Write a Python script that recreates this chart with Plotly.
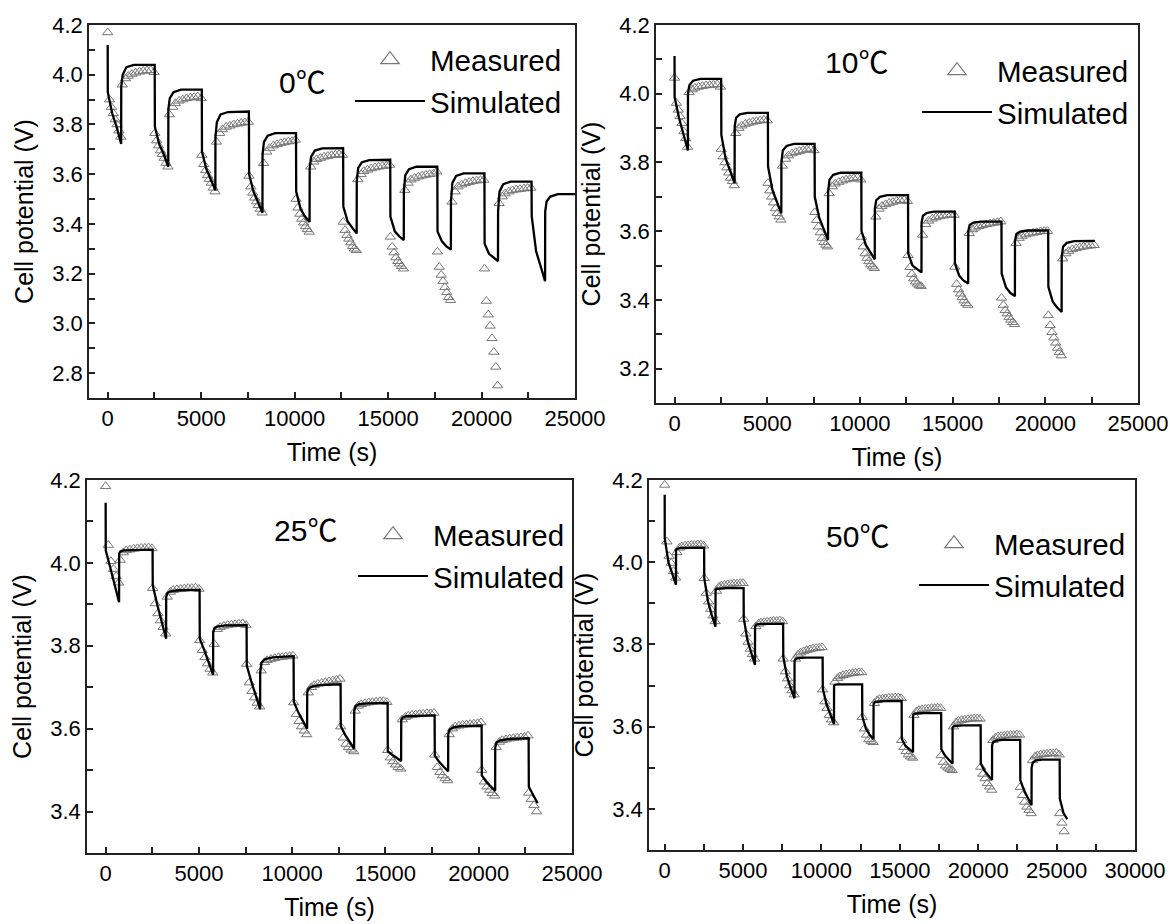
import plotly.graph_objects as go

# ---------------- data ----------------
CYCLE_STARTS = [0, 2520, 5040, 7560, 10080, 12600, 15120, 17640, 20160, 22680, 25200]
DIS_OFFSETS_FINE = [0, 100, 200, 300, 400, 500, 600, 700]
DIS_OFFSETS_COARSE = [0, 140, 280, 420, 560, 700]
REST_OFFSETS = [780, 950, 1100, 1300, 1500, 1700, 1900, 2100, 2300, 2480]
SIM_DIS_OFFSETS = [5, 240, 480, 720]
SIM_REST_OFFSETS = [725, 800, 1000, 1400, 2515]

TEMP_LABELS = ["0", "10", "25", "50"]
SERIES_NAMES = ["Measured", "Simulated"]
X_TITLE = "Time (s)"
Y_TITLE = "Cell potential (V)"

# ---- 0 C ----
M0_DIS = [
    [4.17, 3.90, 3.87, 3.845, 3.82, 3.80, 3.775, 3.75],
    [3.765, 3.735, 3.715, 3.695, 3.68, 3.665, 3.645, 3.63],
    [3.677, 3.64, 3.615, 3.595, 3.58, 3.565, 3.545, 3.53],
    [3.593, 3.55, 3.525, 3.505, 3.49, 3.475, 3.46, 3.445],
    [3.50, 3.465, 3.44, 3.42, 3.405, 3.39, 3.378, 3.368],
    [3.408, 3.375, 3.355, 3.34, 3.325, 3.31, 3.30, 3.294],
    [3.348, 3.308, 3.285, 3.265, 3.25, 3.24, 3.23, 3.22],
    [3.288, 3.227, 3.195, 3.17, 3.145, 3.125, 3.105, 3.093],
    [3.22, 3.09, 3.035, 2.99, 2.94, 2.885, 2.825, 2.75],
]
M0_REST = [
    [3.96, 3.985, 3.995, 4.003, 4.008, 4.012, 4.015, 4.017, 4.018, 4.01],
    [3.84, 3.87, 3.885, 3.895, 3.90, 3.905, 3.908, 3.91, 3.912, 3.905],
    [3.73, 3.765, 3.78, 3.79, 3.795, 3.80, 3.803, 3.806, 3.808, 3.81],
    [3.644, 3.69, 3.705, 3.715, 3.72, 3.725, 3.728, 3.731, 3.733, 3.738],
    [3.63, 3.65, 3.66, 3.665, 3.67, 3.673, 3.676, 3.678, 3.68, 3.677],
    [3.579, 3.60, 3.612, 3.618, 3.623, 3.627, 3.63, 3.632, 3.634, 3.637],
    [3.536, 3.565, 3.578, 3.585, 3.59, 3.594, 3.597, 3.60, 3.602, 3.61],
    [3.489, 3.53, 3.55, 3.558, 3.564, 3.568, 3.572, 3.574, 3.576, 3.577],
    [3.483, 3.51, 3.522, 3.53, 3.535, 3.538, 3.54, 3.542, 3.544, 3.545],
]
S0_START = 4.12
S0_DIS = [
    [3.93, 3.845, 3.79, 3.722],
    [3.79, 3.72, 3.68, 3.63],
    [3.69, 3.62, 3.58, 3.535],
    [3.60, 3.53, 3.49, 3.445],
    [3.53, 3.46, 3.43, 3.408],
    [3.47, 3.41, 3.385, 3.362],
    [3.43, 3.37, 3.35, 3.335],
    [3.37, 3.33, 3.31, 3.297],
    [3.32, 3.28, 3.265, 3.25],
    [3.43, 3.29, 3.23, 3.17],
]
S0_REST = [
    [3.95, 4.00, 4.03, 4.04, 4.04],
    [3.86, 3.905, 3.93, 3.94, 3.94],
    [3.75, 3.81, 3.84, 3.85, 3.852],
    [3.68, 3.73, 3.755, 3.765, 3.765],
    [3.62, 3.67, 3.695, 3.704, 3.705],
    [3.57, 3.625, 3.648, 3.657, 3.658],
    [3.53, 3.595, 3.62, 3.63, 3.63],
    [3.49, 3.565, 3.593, 3.603, 3.603],
    [3.45, 3.53, 3.56, 3.57, 3.57],
    [3.45, 3.49, 3.51, 3.52, 3.52],
]

# ---- 10 C ----
M1_DIS = [
    [4.046, 3.973, 3.953, 3.934, 3.914, 3.89, 3.87, 3.845],
    [3.839, 3.817, 3.80, 3.785, 3.77, 3.755, 3.745, 3.733],
    [3.74, 3.718, 3.70, 3.683, 3.666, 3.652, 3.642, 3.633],
    [3.655, 3.632, 3.613, 3.596, 3.58, 3.568, 3.56, 3.555],
    [3.583, 3.555, 3.535, 3.522, 3.512, 3.503, 3.497, 3.492],
    [3.53, 3.495, 3.475, 3.462, 3.453, 3.447, 3.442, 3.44],
    [3.496, 3.446, 3.43, 3.418, 3.408, 3.398, 3.39, 3.385],
    [3.406, 3.385, 3.37, 3.36, 3.35, 3.342, 3.335, 3.329],
    [3.355, 3.326, 3.306, 3.29, 3.275, 3.26, 3.248, 3.238],
]
M1_REST = [
    [4.004, 4.012, 4.017, 4.02, 4.022, 4.024, 4.025, 4.026, 4.027, 4.02],
    [3.885, 3.90, 3.907, 3.912, 3.915, 3.918, 3.92, 3.922, 3.924, 3.922],
    [3.79, 3.81, 3.82, 3.826, 3.83, 3.833, 3.836, 3.838, 3.84, 3.835],
    [3.71, 3.73, 3.738, 3.743, 3.747, 3.75, 3.752, 3.754, 3.756, 3.75],
    [3.642, 3.665, 3.673, 3.678, 3.682, 3.685, 3.688, 3.69, 3.691, 3.687],
    [3.589, 3.62, 3.63, 3.636, 3.64, 3.643, 3.645, 3.647, 3.648, 3.647],
    [3.594, 3.605, 3.61, 3.614, 3.617, 3.62, 3.622, 3.624, 3.626, 3.628],
    [3.565, 3.58, 3.586, 3.59, 3.593, 3.595, 3.597, 3.599, 3.60, 3.60],
    [3.52, 3.535, 3.542, 3.547, 3.55, 3.553, 3.555, 3.557, 3.558, 3.559],
]
S1_START = 4.11
S1_DIS = [
    [3.99, 3.93, 3.885, 3.835],
    [3.88, 3.81, 3.775, 3.74],
    [3.788, 3.72, 3.685, 3.652],
    [3.70, 3.64, 3.605, 3.574],
    [3.60, 3.56, 3.537, 3.518],
    [3.535, 3.50, 3.49, 3.48],
    [3.506, 3.47, 3.456, 3.448],
    [3.477, 3.436, 3.42, 3.411],
    [3.438, 3.395, 3.378, 3.365],
]
S1_REST = [
    [4.00, 4.025, 4.038, 4.043, 4.043],
    [3.905, 3.93, 3.94, 3.944, 3.944],
    [3.80, 3.835, 3.848, 3.854, 3.854],
    [3.715, 3.75, 3.764, 3.77, 3.77],
    [3.665, 3.69, 3.70, 3.705, 3.705],
    [3.625, 3.645, 3.653, 3.657, 3.657],
    [3.60, 3.618, 3.625, 3.628, 3.628],
    [3.572, 3.592, 3.599, 3.602, 3.602],
    [3.525, 3.555, 3.566, 3.571, 3.572],
]

# ---- 25 C ----
M2_DIS = [
    [4.185, 4.043, 4.004, 3.985, 3.968, 3.952],
    [3.939, 3.902, 3.878, 3.861, 3.845, 3.829],
    [3.813, 3.789, 3.772, 3.757, 3.744, 3.735],
    [3.756, 3.711, 3.69, 3.675, 3.662, 3.653],
    [3.663, 3.635, 3.618, 3.605, 3.595, 3.586],
    [3.605, 3.578, 3.563, 3.555, 3.549, 3.545],
    [3.548, 3.53, 3.521, 3.513, 3.507, 3.503],
    [3.537, 3.507, 3.495, 3.487, 3.48, 3.475],
    [3.50, 3.472, 3.46, 3.452, 3.444, 3.438],
    [3.445, 3.43, 3.415, 3.40],
]
M2_REST = [
    [4.007, 4.025, 4.03, 4.032, 4.034, 4.035, 4.036, 4.036, 4.037, 4.035],
    [3.918, 3.93, 3.934, 3.936, 3.937, 3.938, 3.939, 3.939, 3.94, 3.937],
    [3.804, 3.84, 3.845, 3.848, 3.85, 3.851, 3.852, 3.853, 3.854, 3.85],
    [3.74, 3.76, 3.765, 3.768, 3.77, 3.772, 3.773, 3.774, 3.775, 3.776],
    [3.687, 3.70, 3.705, 3.708, 3.71, 3.712, 3.714, 3.716, 3.718, 3.72],
    [3.643, 3.655, 3.659, 3.661, 3.663, 3.664, 3.665, 3.666, 3.666, 3.664],
    [3.622, 3.628, 3.631, 3.633, 3.634, 3.635, 3.636, 3.637, 3.637, 3.638],
    [3.586, 3.60, 3.605, 3.607, 3.609, 3.61, 3.611, 3.612, 3.613, 3.615],
    [3.555, 3.568, 3.572, 3.574, 3.576, 3.577, 3.578, 3.579, 3.58, 3.583],
]
S2_START = 4.145
S2_DIS = [
    [4.03, 3.99, 3.948, 3.905],
    [3.946, 3.90, 3.86, 3.817],
    [3.817, 3.79, 3.76, 3.73],
    [3.752, 3.715, 3.68, 3.647],
    [3.665, 3.64, 3.62, 3.60],
    [3.606, 3.585, 3.568, 3.552],
    [3.545, 3.537, 3.53, 3.522],
    [3.535, 3.52, 3.508, 3.497],
    [3.487, 3.472, 3.46, 3.45],
    [3.46, 3.44, 3.42],
]
S2_REST = [
    [4.023, 4.028, 4.03, 4.031, 4.032],
    [3.918, 3.928, 3.932, 3.934, 3.935],
    [3.833, 3.843, 3.847, 3.849, 3.85],
    [3.736, 3.76, 3.768, 3.772, 3.775],
    [3.687, 3.697, 3.702, 3.705, 3.707],
    [3.643, 3.655, 3.659, 3.661, 3.662],
    [3.62, 3.627, 3.63, 3.631, 3.632],
    [3.586, 3.598, 3.603, 3.606, 3.607],
    [3.555, 3.567, 3.572, 3.575, 3.577],
]

# ---- 50 C ----
M3_DIS = [
    [4.188, 4.05, 4.015, 3.998, 3.978, 3.962],
    [3.961, 3.925, 3.904, 3.886, 3.87, 3.856],
    [3.862, 3.826, 3.806, 3.789, 3.776, 3.765],
    [3.765, 3.734, 3.717, 3.70, 3.688, 3.678],
    [3.69, 3.661, 3.645, 3.628, 3.617, 3.61],
    [3.623, 3.595, 3.58, 3.569, 3.565, 3.562],
    [3.567, 3.55, 3.54, 3.532, 3.527, 3.524],
    [3.53, 3.514, 3.505, 3.50, 3.497, 3.494],
    [3.502, 3.485, 3.474, 3.462, 3.454, 3.446],
    [3.453, 3.433, 3.417, 3.405, 3.397, 3.389],
    [3.389, 3.366, 3.345],
]
M3_REST = [
    [4.024, 4.035, 4.038, 4.04, 4.041, 4.042, 4.042, 4.043, 4.043, 4.04],
    [3.93, 3.94, 3.943, 3.945, 3.946, 3.947, 3.948, 3.948, 3.949, 3.949],
    [3.844, 3.85, 3.853, 3.854, 3.855, 3.856, 3.857, 3.857, 3.858, 3.856],
    [3.765, 3.775, 3.78, 3.783, 3.786, 3.788, 3.79, 3.791, 3.792, 3.793],
    [3.709, 3.718, 3.722, 3.725, 3.727, 3.729, 3.73, 3.731, 3.732, 3.732],
    [3.657, 3.664, 3.667, 3.668, 3.669, 3.67, 3.67, 3.671, 3.671, 3.669],
    [3.628, 3.637, 3.64, 3.642, 3.643, 3.644, 3.645, 3.645, 3.646, 3.645],
    [3.60, 3.61, 3.614, 3.616, 3.617, 3.618, 3.619, 3.62, 3.62, 3.619],
    [3.567, 3.573, 3.576, 3.577, 3.578, 3.579, 3.58, 3.58, 3.581, 3.58],
    [3.518, 3.527, 3.53, 3.532, 3.533, 3.534, 3.535, 3.535, 3.536, 3.532],
]
S3_START = 4.164
S3_DIS = [
    [4.058, 4.0, 3.97, 3.945],
    [3.961, 3.905, 3.872, 3.843],
    [3.864, 3.81, 3.778, 3.75],
    [3.77, 3.722, 3.694, 3.669],
    [3.693, 3.655, 3.63, 3.606],
    [3.625, 3.595, 3.58, 3.57],
    [3.57, 3.553, 3.545, 3.538],
    [3.545, 3.53, 3.519, 3.51],
    [3.51, 3.493, 3.48, 3.47],
    [3.47, 3.445, 3.426, 3.409],
    [3.425, 3.39, 3.375],
]
S3_REST = [
    [4.03, 4.033, 4.035, 4.035, 4.035],
    [3.933, 3.935, 3.936, 3.937, 3.937],
    [3.843, 3.848, 3.85, 3.85, 3.85],
    [3.76, 3.765, 3.767, 3.768, 3.768],
    [3.70, 3.702, 3.703, 3.703, 3.703],
    [3.655, 3.66, 3.661, 3.662, 3.662],
    [3.628, 3.631, 3.632, 3.633, 3.633],
    [3.598, 3.601, 3.602, 3.603, 3.603],
    [3.555, 3.563, 3.566, 3.568, 3.568],
    [3.50, 3.513, 3.518, 3.52, 3.52],
]

X_RANGES = [[-1000, 25000], [-1000, 25000], [-1000, 25000], [-1000, 30000]]
Y_RANGES = [[2.7, 4.2], [3.1, 4.2], [3.3, 4.2], [3.3, 4.2]]

PANELS = [
    dict(m_dis=M0_DIS, m_rest=M0_REST, s0=S0_START, s_dis=S0_DIS, s_rest=S0_REST, dis_off=DIS_OFFSETS_FINE),
    dict(m_dis=M1_DIS, m_rest=M1_REST, s0=S1_START, s_dis=S1_DIS, s_rest=S1_REST, dis_off=DIS_OFFSETS_FINE),
    dict(m_dis=M2_DIS, m_rest=M2_REST, s0=S2_START, s_dis=S2_DIS, s_rest=S2_REST, dis_off=DIS_OFFSETS_COARSE),
    dict(m_dis=M3_DIS, m_rest=M3_REST, s0=S3_START, s_dis=S3_DIS, s_rest=S3_REST, dis_off=DIS_OFFSETS_COARSE),
]

# ---------------- layout geometry (pixels) ----------------
W, H = 1170, 924
BOXES = [  # left, right, top, bottom
    (89, 575, 25, 398),
    (656, 1138, 25, 403),
    (87, 572, 480, 853),
    (649, 1135, 480, 850),
]
TEMP_POS = [(302, 80), (857, 60), (305, 528), (858, 534)]
LEG_POS = [(350, 34), (917, 45), (353, 509), (914, 518)]


def build_measured(p):
    xs, ys = [], []
    for k, start in enumerate(CYCLE_STARTS):
        if k < len(p["m_dis"]):
            for off, v in zip(p["dis_off"], p["m_dis"][k]):
                xs.append(start + off)
                ys.append(v)
        if k < len(p["m_rest"]):
            for off, v in zip(REST_OFFSETS, p["m_rest"][k]):
                xs.append(start + off)
                ys.append(v)
    return xs, ys


def build_sim(p):
    xs, ys = [0], [p["s0"]]
    for k, start in enumerate(CYCLE_STARTS):
        if k < len(p["s_dis"]):
            for off, v in zip(SIM_DIS_OFFSETS, p["s_dis"][k]):
                xs.append(start + off)
                ys.append(v)
        if k < len(p["s_rest"]):
            for off, v in zip(SIM_REST_OFFSETS, p["s_rest"][k]):
                xs.append(start + off)
                ys.append(v)
    return xs, ys


FONT = "Liberation Sans, Arial, sans-serif"
MARK_COLOR = "#777777"
AX_COLOR = "#222222"

fig = go.Figure()
layout = dict(
    width=W, height=H,
    margin=dict(l=0, r=0, t=0, b=0, autoexpand=False),
    paper_bgcolor="white", plot_bgcolor="white",
    font=dict(family=FONT, color="black"),
    showlegend=True,
    annotations=[],
)

for i, p in enumerate(PANELS):
    sfx = "" if i == 0 else str(i + 1)
    xa, ya = "x" + sfx, "y" + sfx
    leg = "legend" + sfx
    mx, my = build_measured(p)
    sx, sy = build_sim(p)
    fig.add_trace(go.Scatter(
        x=mx, y=my, mode="markers", xaxis=xa, yaxis=ya, showlegend=False,
        marker=dict(symbol="triangle-up-open", size=9, color=MARK_COLOR, line=dict(width=1, color=MARK_COLOR)),
        name=SERIES_NAMES[0]))
    fig.add_trace(go.Scatter(
        x=sx, y=sy, mode="lines", xaxis=xa, yaxis=ya, showlegend=False,
        line=dict(color="black", width=2.3), name=SERIES_NAMES[1]))
    # legend entries
    fig.add_trace(go.Scatter(
        x=[None], y=[None], mode="markers", xaxis=xa, yaxis=ya, legend=leg,
        marker=dict(symbol="triangle-up-open", size=16, color=MARK_COLOR, line=dict(width=1.2, color=MARK_COLOR)),
        name=SERIES_NAMES[0]))
    fig.add_trace(go.Scatter(
        x=[None], y=[None], mode="lines", xaxis=xa, yaxis=ya, legend=leg,
        line=dict(color="black", width=2), name=SERIES_NAMES[1]))

    l, r, t, b = BOXES[i]
    axis_common = dict(
        showline=True, mirror=True, linecolor=AX_COLOR, linewidth=1.5,
        ticks="inside", ticklen=6, tickwidth=1.5, tickcolor=AX_COLOR,
        showgrid=False, zeroline=False, automargin=False,
        tickfont=dict(family=FONT, size=22, color="black"),
    )
    layout["xaxis" + sfx] = dict(
        axis_common, domain=[l / W, r / W], anchor=ya, range=X_RANGES[i],
        tick0=0, dtick=5000, tickformat="d",
        minor=dict(dtick=2500, ticks="inside", ticklen=6, tickwidth=1.5, tickcolor=AX_COLOR),
        title=dict(text=X_TITLE, font=dict(family=FONT, size=25), standoff=13),
    )
    layout["yaxis" + sfx] = dict(
        axis_common, domain=[1 - b / H, 1 - t / H], anchor=xa, range=Y_RANGES[i],
        tick0=0, dtick=0.2, tickformat=".1f",
        minor=dict(dtick=0.1, ticks="inside", ticklen=6, tickwidth=1.5, tickcolor=AX_COLOR),
        title=dict(text=Y_TITLE, font=dict(family=FONT, size=25), standoff=12),
    )
    lx, ly = LEG_POS[i]
    layout[leg] = dict(
        x=lx / W, y=1 - ly / H, xanchor="left", yanchor="top", xref="paper", yref="paper",
        bgcolor="rgba(0,0,0,0)", font=dict(family=FONT, size=29.5, color="black"),
        itemwidth=70, tracegroupgap=0,
    )
    tx, ty = TEMP_POS[i]
    layout["annotations"].append(dict(
        x=tx / W, y=1 - ty / H, xref="paper", yref="paper", showarrow=False,
        xanchor="center", yanchor="middle",
        text=TEMP_LABELS[i] + "<span style='font-family:Noto Sans CJK SC'>℃</span>",
        font=dict(family=FONT, size=30, color="black"),
    ))

fig.update_layout(**layout)
fig.write_html(
    "out.html",
    config={"displayModeBar": False},
    post_script="document.body.style.margin='0px';document.body.style.padding='0px';",
)
